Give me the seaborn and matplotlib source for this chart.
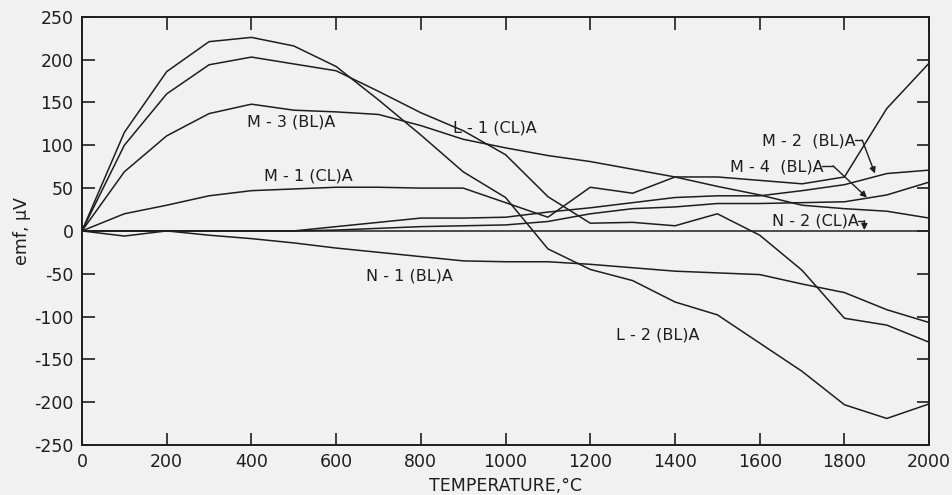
import matplotlib
matplotlib.use("Agg")
import matplotlib.pyplot as plt
import seaborn as sns
import pandas as pd

# Temperature (deg C) at which each emf reading was taken
temperature = [0, 100, 200, 300, 400, 500, 600, 700, 800, 900, 1000,
               1100, 1200, 1300, 1400, 1500, 1600, 1700, 1800, 1900, 2000]

# Thermal emf (microvolts) of each thermocouple specimen
emf_L1 = [0, 100, 160, 194, 203, 195, 187, 163, 138, 117, 89,
          40, 9, 10, 6, 20, -5, -46, -102, -110, -130]
emf_L2 = [0, 115, 186, 221, 226, 216, 192, 153, 112, 69, 39,
          -21, -45, -58, -83, -98, -131, -164, -203, -219, -202]
emf_M1 = [0, 20, 30, 41, 47, 49, 51, 51, 50, 50, 33,
          16, 51, 44, 63, 63, 59, 55, 63, 143, 196]
emf_M2 = [0, 0, 0, 0, 0, 0, 5, 10, 15, 15, 16,
          22, 27, 33, 39, 41, 41, 47, 54, 67, 71]
emf_M3 = [0, 69, 111, 137, 148, 141, 139, 136, 123, 107, 97,
          88, 81, 72, 63, 52, 42, 30, 26, 23, 15]
emf_M4 = [0, 0, 0, 0, 0, 0, 1, 3, 5, 6, 7,
          11, 20, 26, 28, 32, 32, 33, 34, 42, 57]
emf_N1 = [0, -6, 0, -5, -9, -14, -20, -25, -30, -35, -36,
          -36, -39, -43, -47, -49, -51, -62, -72, -92, -107]
emf_N2 = [0, 0, 0, 0, 0, 0, 0, 0, 0, 0, 0,
          0, 0, 0, 0, 0, 0, 0, 0, 0, 0]

series = {
    "L-1 (CL)A": emf_L1,
    "L-2 (BL)A": emf_L2,
    "M-1 (CL)A": emf_M1,
    "M-2 (BL)A": emf_M2,
    "M-3 (BL)A": emf_M3,
    "M-4 (BL)A": emf_M4,
    "N-1 (BL)A": emf_N1,
    "N-2 (CL)A": emf_N2,
}

x_ticks = [0, 200, 400, 600, 800, 1000, 1200, 1400, 1600, 1800, 2000]
x_tick_labels = ["0", "200", "400", "600", "800", "1000", "1200", "1400",
                 "1600", "1800", "2000"]
y_ticks = [-250, -200, -150, -100, -50, 0, 50, 100, 150, 200, 250]
y_tick_labels = ["-250", "-200", "-150", "-100", "-50", "0", "50", "100",
                 "150", "200", "250"]

rows = []
for name, values in series.items():
    for t, v in zip(temperature, values):
        rows.append({"temperature": t, "emf": v, "specimen": name})
df = pd.DataFrame(rows)

sns.set_theme(style="ticks")
bg = "#f1f1f1"
ink = "#1e1e1e"
plt.rcParams["font.family"] = ["DejaVu Sans"]
plt.rcParams["axes.unicode_minus"] = False

fig = plt.figure(figsize=(9.53, 4.95), dpi=100, facecolor=bg)
ax = fig.add_axes([0.086, 0.101, 0.889, 0.865])
ax.set_facecolor(bg)

sns.lineplot(data=df, x="temperature", y="emf", hue="specimen",
             palette=[ink] * len(series), linewidth=1.1,
             legend=False, ax=ax, sort=False)

ax.set_xlim(0, 2000)
ax.set_ylim(-250, 250)
ax.set_xticks(x_ticks)
ax.set_xticklabels(x_tick_labels)
ax.set_yticks(y_ticks)
ax.set_yticklabels(y_tick_labels)
ax.tick_params(direction="in", length=9, width=1.2, top=True, right=True,
               labelsize=12.5, colors=ink, pad=6)
for side in ax.spines.values():
    side.set_linewidth(1.4)
    side.set_color(ink)

ax.set_xlabel("TEMPERATURE,°C", fontsize=12.5, color=ink, labelpad=4)
ax.set_ylabel("emf, μV", fontsize=12.5, color=ink, labelpad=2)

# Curve labels
lbl = dict(fontsize=11.5, color=ink, ha="center", va="center")
ax.text(975, 120, "L - 1 (CL)A", **lbl)
ax.text(494, 127, "M - 3 (BL)A", **lbl)
ax.text(534, 64, "M - 1 (CL)A", **lbl)
ax.text(774, -53, "N - 1 (BL)A", **lbl)
ax.text(1360, -121, "L - 2 (BL)A", **lbl)
ax.text(1717, 105, "M - 2  (BL)A", **lbl)
ax.text(1641, 75, "M - 4  (BL)A", **lbl)
ax.text(1731, 12, "N - 2 (CL)A", **lbl)

# Leader hooks from labels to their curves
arrow = dict(arrowstyle="-|>", color=ink, lw=1.0, mutation_scale=9,
             shrinkA=0, shrinkB=0)
ax.plot([1826, 1842], [106, 106], color=ink, lw=1.0)
ax.annotate("", xy=(1872, 67), xytext=(1842, 106), arrowprops=arrow)
ax.plot([1748, 1773], [76, 76], color=ink, lw=1.0)
ax.annotate("", xy=(1853, 39), xytext=(1773, 76), arrowprops=arrow)
ax.plot([1833, 1847], [12, 12], color=ink, lw=1.0)
ax.annotate("", xy=(1847, 1), xytext=(1847, 12), arrowprops=arrow)

fig.savefig("out.png", dpi=100, facecolor=bg)
